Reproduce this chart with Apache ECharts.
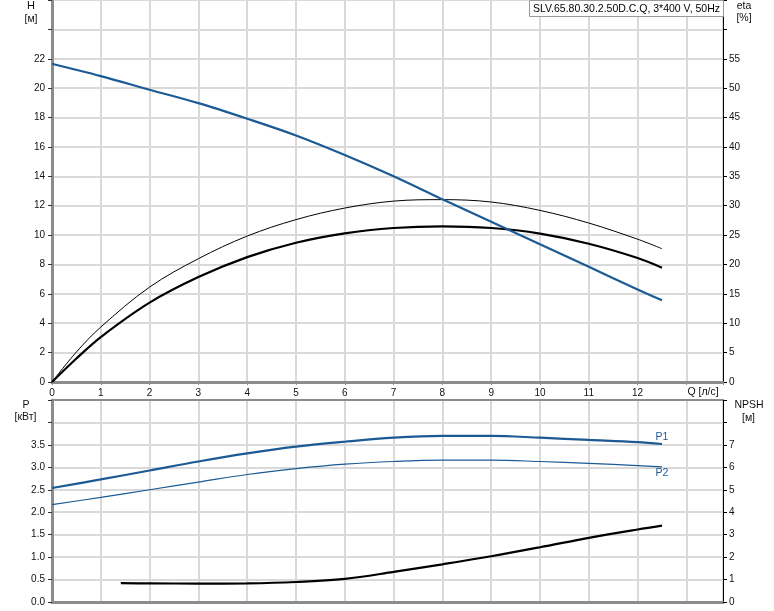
<!DOCTYPE html>
<html>
<head>
<meta charset="utf-8">
<script src="https://cdn.jsdelivr.net/npm/echarts@6/dist/echarts.min.js"></script>
<style>
html,body{margin:0;padding:0;background:#fff;}
#chart{width:774px;height:611px;}
</style>
</head>
<body>
<div id="chart"></div>
<script>
// ---- data ----
var qMain = [0, 1, 2, 3, 4, 5, 6, 7, 8, 9, 10, 11, 12, 12.5];
var headH = [21.66, 20.82, 19.89, 18.98, 17.92, 16.78, 15.45, 14.0, 12.43, 10.91, 9.37, 7.84, 6.30, 5.56];
var qEta = [0, 0.5, 1, 2, 3, 4, 5, 6, 7, 8, 9, 10, 11, 12, 12.5];
var etaThin = [0, 5.1, 9.35, 16.15, 20.98, 24.83, 27.63, 29.6, 30.78, 31.03, 30.63, 29.2, 27.05, 24.3, 22.68];
var etaThick = [0, 4.0, 7.65, 13.5, 17.85, 21.25, 23.7, 25.3, 26.2, 26.48, 26.2, 25.25, 23.53, 21.1, 19.45];
var powerP1 = [2.54, 2.73, 2.93, 3.13, 3.31, 3.46, 3.57, 3.66, 3.70, 3.70, 3.66, 3.61, 3.56, 3.52];
var powerP2 = [2.17, 2.33, 2.50, 2.67, 2.84, 2.97, 3.07, 3.13, 3.16, 3.16, 3.13, 3.09, 3.04, 3.01];
var qNpsh = [1.41, 2, 3, 4, 5, 6, 7, 8, 9, 10, 11, 12, 12.5];
var npsh = [0.84, 0.83, 0.82, 0.83, 0.89, 1.03, 1.34, 1.68, 2.04, 2.44, 2.86, 3.23, 3.40];
var titleText = 'SLV.65.80.30.2.50D.C.Q, 3*400 V, 50Hz';
var labelP1 = 'P1', labelP2 = 'P2';

function pairs(xs, ys){ return xs.map(function(x,i){ return [x, ys[i]]; }); }

var FONT = '"Liberation Sans", Arial, sans-serif';
var BLUE = '#1b5a94';
var GREY_AX = '#8c8c8c';
var GRID_C = '#d9d9d9';

var chart = echarts.init(document.getElementById('chart'), null, {renderer:'canvas'});

var tickLbl = {fontFamily: FONT, fontSize: 10, color: '#111'};

var option = {
  animation: false,
  textStyle: {fontFamily: FONT},
  title: {
    text: titleText,
    right: 50, top: 0,
    padding: [3, 4, 2, 4],
    backgroundColor: '#fff',
    borderColor: '#9a9a9a', borderWidth: 1,
    textStyle: {fontFamily: FONT, fontSize: 10.5, fontWeight: 'normal', color: '#000', lineHeight: 12}
  },
  grid: [
    {left: 52, right: 51, top: 0, height: 382},
    {left: 52, right: 51, top: 400, height: 202}
  ],
  xAxis: [
    {type: 'value', gridIndex: 0, min: 0, max: 13.75, interval: 1,
     axisLine: {show: true, onZero: false, lineStyle: {color: GREY_AX, width: 3}},
     axisTick: {show: true, length: 3, lineStyle: {color: GREY_AX}},
     axisLabel: Object.assign({margin: 6, formatter: function(v){ return v <= 12 ? String(v) : ''; }}, tickLbl),
     splitLine: {show: true, lineStyle: {color: GRID_C, width: 2}}},
    {type: 'value', gridIndex: 1, min: 0, max: 13.75, interval: 1,
     axisLine: {show: true, onZero: false, lineStyle: {color: GREY_AX, width: 3}},
     axisTick: {show: false}, axisLabel: {show: false},
     splitLine: {show: true, lineStyle: {color: GRID_C, width: 2}}},
    {type: 'value', gridIndex: 1, position: 'top', min: 0, max: 13.75, interval: 1,
     axisLine: {show: true, onZero: false, lineStyle: {color: GREY_AX, width: 2}},
     axisTick: {show: false}, axisLabel: {show: false}, splitLine: {show: false}}
  ],
  yAxis: [
    {type: 'value', gridIndex: 0, position: 'left', min: 0, max: 26, interval: 2,
     axisLine: {show: true, onZero: false, lineStyle: {color: GREY_AX, width: 3}},
     axisTick: {show: true, length: 4, lineStyle: {color: '#333'}},
     axisLabel: Object.assign({margin: 7, formatter: function(v){ return v <= 22 ? String(v) : ''; }}, tickLbl),
     splitLine: {show: true, lineStyle: {color: GRID_C, width: 2}}},
    {type: 'value', gridIndex: 0, position: 'right', min: 0, max: 65, interval: 5,
     axisLine: {show: true, onZero: false, lineStyle: {color: '#000', width: 1}},
     axisTick: {show: true, length: 4, lineStyle: {color: '#000'}},
     axisLabel: Object.assign({margin: 6, formatter: function(v){ return v <= 55 ? String(v) : ''; }}, tickLbl),
     splitLine: {show: false}},
    {type: 'value', gridIndex: 1, position: 'left', min: 0, max: 4.5, interval: 0.5,
     axisLine: {show: true, onZero: false, lineStyle: {color: GREY_AX, width: 3}},
     axisTick: {show: true, length: 4, lineStyle: {color: '#333'}},
     axisLabel: Object.assign({margin: 7, formatter: function(v){ return v <= 3.5 ? v.toFixed(1) : ''; }}, tickLbl),
     splitLine: {show: true, lineStyle: {color: GRID_C, width: 2}}},
    {type: 'value', gridIndex: 1, position: 'right', min: 0, max: 9, interval: 1,
     axisLine: {show: true, onZero: false, lineStyle: {color: '#000', width: 1}},
     axisTick: {show: true, length: 4, lineStyle: {color: '#000'}},
     axisLabel: Object.assign({margin: 6, formatter: function(v){ return v <= 7 ? String(v) : ''; }}, tickLbl),
     splitLine: {show: false}}
  ],
  series: [
    {type: 'line', name: 'H', xAxisIndex: 0, yAxisIndex: 0, data: pairs(qMain, headH),
     smooth: 0.35, showSymbol: false, symbol: 'none', lineStyle: {color: BLUE, width: 2.2}, z: 5},
    {type: 'line', name: 'eta1', xAxisIndex: 0, yAxisIndex: 1, data: pairs(qEta, etaThin),
     smooth: 0.35, showSymbol: false, symbol: 'none', lineStyle: {color: '#000', width: 1}, z: 4},
    {type: 'line', name: 'eta2', xAxisIndex: 0, yAxisIndex: 1, data: pairs(qEta, etaThick),
     smooth: 0.35, showSymbol: false, symbol: 'none', lineStyle: {color: '#000', width: 2.2}, z: 4},
    {type: 'line', name: 'P1', xAxisIndex: 1, yAxisIndex: 2, data: pairs(qMain, powerP1),
     smooth: 0.35, showSymbol: false, symbol: 'none', lineStyle: {color: BLUE, width: 2.2}, z: 5,
     markPoint: {symbol: 'circle', symbolSize: 0, silent: true,
       label: {show: true, position: 'top', distance: 1, formatter: labelP1, color: BLUE, fontFamily: FONT, fontSize: 10.5},
       data: [{coord: [qMain[qMain.length-1], powerP1[powerP1.length-1]]}]}},
    {type: 'line', name: 'P2', xAxisIndex: 1, yAxisIndex: 2, data: pairs(qMain, powerP2),
     smooth: 0.35, showSymbol: false, symbol: 'none', lineStyle: {color: BLUE, width: 1.2}, z: 5,
     markPoint: {symbol: 'circle', symbolSize: 0, silent: true,
       label: {show: true, position: 'bottom', distance: 1, formatter: labelP2, color: BLUE, fontFamily: FONT, fontSize: 10.5},
       data: [{coord: [qMain[qMain.length-1], powerP2[powerP2.length-1]]}]}},
    {type: 'line', name: 'NPSH', xAxisIndex: 1, yAxisIndex: 3, data: pairs(qNpsh, npsh),
     smooth: 0.35, showSymbol: false, symbol: 'none', lineStyle: {color: '#000', width: 2.2}, z: 4}
  ],
  graphic: [
    {type: 'text', x: 31, y: 6, style: {text: 'H', font: '11px ' + FONT, fill: '#111', textAlign: 'center', textVerticalAlign: 'middle'}},
    {type: 'text', x: 31, y: 19, style: {text: '[м]', font: '10.5px ' + FONT, fill: '#111', textAlign: 'center', textVerticalAlign: 'middle'}},
    {type: 'text', x: 744, y: 6, style: {text: 'eta', font: '10.5px ' + FONT, fill: '#111', textAlign: 'center', textVerticalAlign: 'middle'}},
    {type: 'text', x: 744, y: 18, style: {text: '[%]', font: '10.5px ' + FONT, fill: '#111', textAlign: 'center', textVerticalAlign: 'middle'}},
    {type: 'text', x: 703, y: 392.5, style: {text: 'Q [л/с]', font: '10.5px ' + FONT, fill: '#111', textAlign: 'center', textVerticalAlign: 'middle'}},
    {type: 'text', x: 26, y: 405, style: {text: 'P', font: '10.5px ' + FONT, fill: '#111', textAlign: 'center', textVerticalAlign: 'middle'}},
    {type: 'text', x: 25.5, y: 417.5, style: {text: '[кВт]', font: '10.5px ' + FONT, fill: '#111', textAlign: 'center', textVerticalAlign: 'middle'}},
    {type: 'text', x: 749, y: 405.5, style: {text: 'NPSH', font: '10.5px ' + FONT, fill: '#111', textAlign: 'center', textVerticalAlign: 'middle'}},
    {type: 'text', x: 748.5, y: 418, style: {text: '[м]', font: '10.5px ' + FONT, fill: '#111', textAlign: 'center', textVerticalAlign: 'middle'}}
  ]
};
chart.setOption(option);
</script>
</body>
</html>
